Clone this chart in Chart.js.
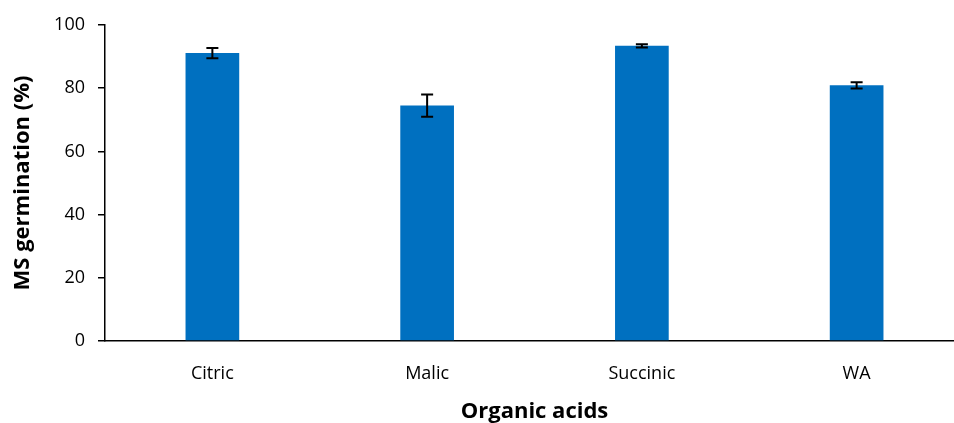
<!DOCTYPE html>
<html>
<head>
<meta charset="utf-8">
<script src="https://cdn.jsdelivr.net/npm/chart.js@4/dist/chart.umd.min.js"></script>
<style>
  html, body { margin: 0; padding: 0; background: #fff; overflow: hidden; }
  #wrap { width: 964px; height: 423px; position: relative; }
</style>
</head>
<body>
<div id="wrap"><canvas id="chart"></canvas></div>
<script>
// germination of MS per organic acid, mean and standard error
const acids = ["Citric", "Malic", "Succinic", "WA"];
const germination = [91.1, 74.5, 93.4, 80.9];
const stdErr = [1.6, 3.5, 0.5, 1.0];
const yTicks = [0, 20, 40, 60, 80, 100];

const barBlue = "#0070C0";
const font = "'Open Sans', Lato, sans-serif";

// whiskers drawn from the y scale after the bars are painted
const errorBars = {
  id: "errorBars",
  afterDatasetsDraw(chart) {
    const ctx = chart.ctx;
    const y = chart.scales.y;
    const meta = chart.getDatasetMeta(0);
    ctx.save();
    ctx.strokeStyle = "#000";
    ctx.lineWidth = 2;
    meta.data.forEach((bar, i) => {
      const top = y.getPixelForValue(germination[i] + stdErr[i]);
      const bottom = y.getPixelForValue(germination[i] - stdErr[i]);
      const cap = 6;
      ctx.beginPath();
      ctx.moveTo(bar.x, top);
      ctx.lineTo(bar.x, bottom);
      ctx.moveTo(bar.x - cap, top);
      ctx.lineTo(bar.x + cap, top);
      ctx.moveTo(bar.x - cap, bottom);
      ctx.lineTo(bar.x + cap, bottom);
      ctx.stroke();
    });
    ctx.restore();
  }
};

new Chart(document.getElementById("chart"), {
  type: "bar",
  data: {
    labels: acids,
    datasets: [{
      data: germination,
      backgroundColor: barBlue,
      barPercentage: 1,
      categoryPercentage: 0.25
    }]
  },
  options: {
    responsive: true,
    maintainAspectRatio: false,
    animation: false,
    layout: { padding: { top: 25, right: 0, left: 6, bottom: 0 } },
    plugins: {
      legend: { display: false },
      tooltip: { enabled: false }
    },
    scales: {
      x: {
        grid: { display: false },
        border: { display: true, color: "#000", width: 1.5 },
        ticks: { color: "#000", font: { family: font, size: 18 }, padding: 14 },
        title: {
          display: true,
          text: "Organic acids",
          color: "#000",
          font: { family: font, size: 22, weight: "bold", lineHeight: 1 },
          padding: { top: 13, bottom: 0 }
        },
        afterFit(scale) { scale.height = 82; }
      },
      y: {
        min: 0,
        max: 100,
        afterBuildTicks(scale) { scale.ticks = yTicks.map(v => ({ value: v })); },
        grid: { drawOnChartArea: false, drawTicks: true, tickLength: 7, color: "#000", lineWidth: 1.5 },
        border: { display: true, color: "#000", width: 1.5 },
        ticks: { color: "#000", font: { family: font, size: 18 }, padding: 13 },
        title: {
          display: true,
          text: "MS germination (%)",
          color: "#000",
          font: { family: font, size: 22, weight: "bold" },
          padding: { bottom: 0 }
        },
        afterFit(scale) { scale.width = 99; }
      }
    }
  },
  plugins: [errorBars]
});
</script>
</body>
</html>
